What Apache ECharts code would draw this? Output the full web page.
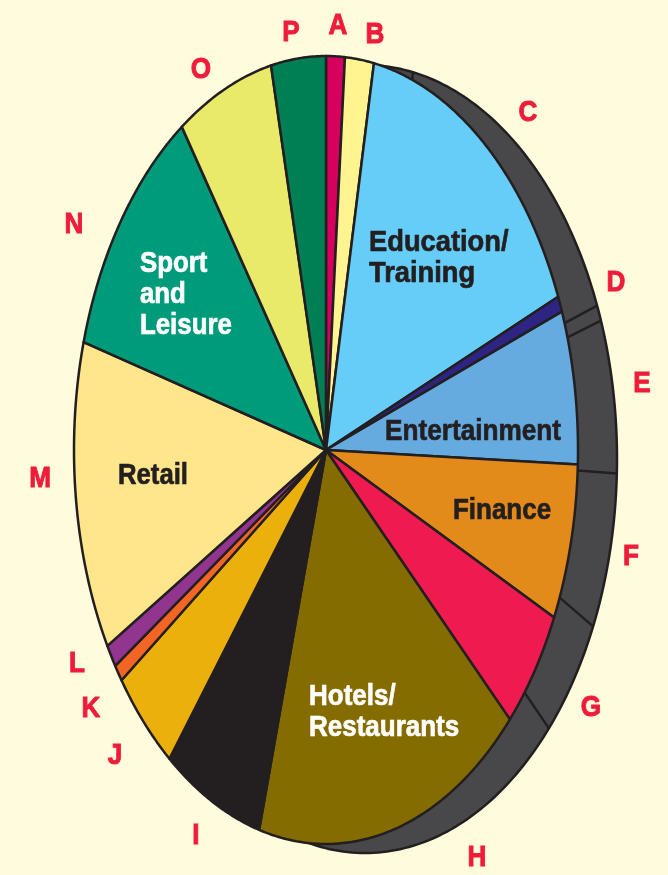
<!DOCTYPE html>
<html>
<head>
<meta charset="utf-8">
<title>Sectors pie</title>
<style>
    html, body { margin: 0; padding: 0; background: #fffbdc; }
    #main { width: 668px; height: 875px; }
</style>
<script src="https://cdn.jsdelivr.net/npm/echarts@6/dist/echarts.min.js"></script>
</head>
<body>
<div id="main"></div>
<script>
// share of each sector (percent)
var letters = ['A', 'B', 'C', 'D', 'E', 'F', 'G', 'H', 'I', 'J', 'K', 'L', 'M', 'N', 'O', 'P'];
var values = [1.2, 1.85, 15.6, 0.65, 6.3, 6.4, 5, 17.3, 6.4, 4.4, 0.7, 0.95, 12.7, 10.9, 6.2, 3.5];
var colors = ['#d6005f', '#fff48f', '#66cdf8', '#2e2483', '#66abe0', '#e28a1a', '#ef1a4f', '#856c00',
    '#231f20', '#ecb00c', '#f26522', '#92358f', '#ffe68a', '#009b7a', '#e9e96a', '#007f55'];
// where the ticks on the dark rim land on the front face, degrees, first seven sector ends
var rimInnerAngles = [13, 20, 71.2, 73.4, 93, 112, 128];

var letterPos = [[338, 26], [375, 35], [528, 113], [616, 283], [642, 384], [631, 557], [591, 708], [477, 858],
    [196, 836], [115, 756], [91, 709], [77, 664], [40, 479], [74, 225], [201, 70], [291, 33]];
var sectorText = [
    { text: 'Education/\nTraining', x: 369, y: 258, sx: 0.91, fill: '#231f20' },
    { text: 'Entertainment', x: 385, y: 432, sx: 0.873, fill: '#231f20' },
    { text: 'Finance', x: 453, y: 511, sx: 0.865, fill: '#231f20' },
    { text: 'Hotels/\nRestaurants', x: 309, y: 712, sx: 0.866, fill: '#fff' },
    { text: 'Retail', x: 118, y: 476, sx: 0.857, fill: '#231f20' },
    { text: 'Sport\nand\nLeisure', x: 140, y: 295, sx: 0.86, fill: '#fff' }
];

var face = { cx: 326, cy: 450, rx: 252, ry: 394 };
var back = { cx: 365, cy: 459, rx: 252, ry: 394 };
var total = values.reduce(function (a, b) { return a + b; }, 0);
var lineColor = '#231f20';
var labelFont = 'bold 30px "Liberation Sans", Arial, sans-serif';

function onEllipse(e, deg) {
    var t = deg * Math.PI / 180;
    return [e.cx + e.rx * Math.sin(t), e.cy - e.ry * Math.cos(t)];
}
function startAngle(i) {
    var sum = 0;
    for (var k = 0; k < i; k++) sum += values[k];
    return sum / total * 360;
}

function renderRim(params, api) {
    var pts = [];
    for (var d = 0; d < 360; d += 1) pts.push(onEllipse(back, d));
    var children = [{
        type: 'polygon',
        shape: { points: pts },
        style: { fill: '#48484a', stroke: lineColor, lineWidth: 2.5 }
    }];
    rimInnerAngles.forEach(function (a, i) {
        var from = onEllipse(back, startAngle(i + 1));
        var to = onEllipse(face, a);
        children.push({
            type: 'line',
            shape: { x1: from[0], y1: from[1], x2: to[0], y2: to[1] },
            style: { stroke: lineColor, lineWidth: 2.5 }
        });
    });
    return { type: 'group', children: children };
}

function renderSlice(params, api) {
    var i = params.dataIndex;
    var a0 = startAngle(i);
    var a1 = a0 + api.value(0) / total * 360;
    var pts = [[face.cx, face.cy]];
    for (var d = a0; d < a1; d += 0.5) pts.push(onEllipse(face, d));
    pts.push(onEllipse(face, a1));
    return {
        type: 'polygon',
        shape: { points: pts },
        style: { fill: colors[i], stroke: lineColor, lineWidth: 2.5, lineJoin: 'round' }
    };
}

var graphics = [];
letters.forEach(function (l, i) {
    graphics.push({
        type: 'text', x: letterPos[i][0], y: letterPos[i][1], z: 10, scaleX: 0.87,
        style: {
            text: l, fill: '#ee1c3a', stroke: '#ee1c3a', lineWidth: 1, align: 'center', verticalAlign: 'middle',
            font: labelFont
        }
    });
});
sectorText.forEach(function (t) {
    graphics.push({
        type: 'text', x: t.x, y: t.y, z: 10, scaleX: t.sx,
        style: {
            text: t.text, fill: t.fill, stroke: t.fill, lineWidth: 0.7, align: 'left', verticalAlign: 'middle', lineHeight: 31,
            font: labelFont
        }
    });
});

var option = {
    backgroundColor: '#fffbdc',
    animation: false,
    graphic: { elements: graphics },
    series: [
        { type: 'custom', coordinateSystem: 'none', renderItem: renderRim, data: [[0]], silent: true, z: 1 },
        { type: 'custom', coordinateSystem: 'none', renderItem: renderSlice, data: values.map(function (v) { return [v]; }), silent: true, z: 2 }
    ]
};

var myChart = echarts.init(document.getElementById('main'));
myChart.setOption(option);
</script>
</body>
</html>
